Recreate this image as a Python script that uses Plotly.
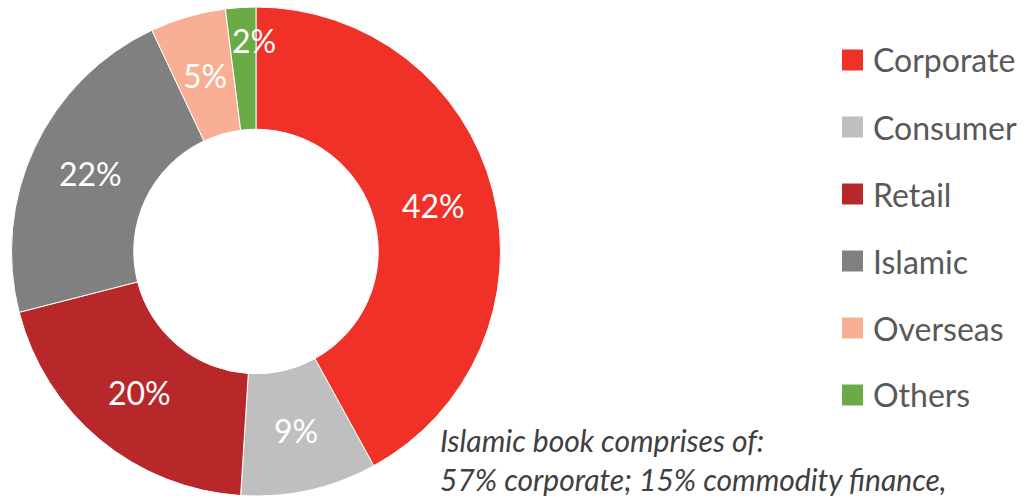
import math
import plotly.graph_objects as go

# Loan book breakdown by segment
segments = ["Corporate", "Consumer", "Retail", "Islamic", "Overseas", "Others"]
shares = [42, 9, 20, 22, 5, 2]
colors = ["#EF3127", "#BFBFBF", "#B8282A", "#808080", "#F9AF93", "#6BAB47"]
note_lines = ["Islamic book comprises of:", "57% corporate; 15% commodity finance,"]

W, H = 1030, 496
MT, MB = 7, 0
PH = H - MT - MB
HOLE = 0.5

def px(x):
    return x / W

def py(y):
    return (H - MB - y) / PH

FONT = "Lato, 'Open Sans', sans-serif"

# pie geometry in pixels (domain is 512 px wide, full plot height)
CX, CY = 256, MT + PH / 2
R_OUT = min(512, PH) / 2
R_MID = R_OUT * (1 + HOLE) / 2

fig = go.Figure(
    go.Pie(
        labels=segments,
        values=shares,
        marker=dict(colors=colors, line=dict(color="white", width=1)),
        hole=HOLE,
        sort=False,
        direction="clockwise",
        rotation=0,
        textinfo="none",
        domain=dict(x=[0, 512 / W], y=[0, 1]),
        showlegend=False,
        hoverinfo="label+percent",
    )
)

annotations = []
shapes = []

# percentage labels at the middle of each wedge
total = sum(shares)
cum = 0
for i, v in enumerate(shares):
    mid = (cum + v / 2) / total * 2 * math.pi
    cum += v
    if i == len(shares) - 1:
        # thin wedge: label sits further out, near the top edge
        lx, ly = 254, 40
    else:
        lx = CX + R_MID * math.sin(mid)
        ly = CY - R_MID * math.cos(mid)
    annotations.append(dict(
        x=px(lx), y=py(ly), xref="paper", yref="paper",
        text=f"{v}%", showarrow=False,
        font=dict(family=FONT, size=32, color="white"),
        xanchor="center", yanchor="middle",
    ))

# custom legend with large square swatches
y0, step = 60, 67
for i, (name, col) in enumerate(zip(segments, colors)):
    yc = y0 + i * step
    shapes.append(dict(
        type="rect", xref="paper", yref="paper",
        x0=px(842), x1=px(863), y0=py(yc + 10.5), y1=py(yc - 10.5),
        fillcolor=col, line=dict(width=0),
    ))
    annotations.append(dict(
        x=px(871), y=py(yc), xref="paper", yref="paper",
        text=name, showarrow=False,
        font=dict(family=FONT, size=32, color="#595959"),
        xanchor="left", yanchor="middle",
    ))

# footnote on the Islamic book
annotations.append(dict(
    x=px(438), y=py(420), xref="paper", yref="paper",
    text="<i>" + "<br>".join(note_lines) + "</i>", showarrow=False,
    font=dict(family=FONT, size=30, color="#404040"),
    xanchor="left", yanchor="top", align="left",
))

fig.update_layout(
    width=W, height=H,
    margin=dict(l=0, r=0, t=MT, b=MB),
    paper_bgcolor="white", plot_bgcolor="white",
    shapes=shapes, annotations=annotations,
)

fig.write_html("out.html")
